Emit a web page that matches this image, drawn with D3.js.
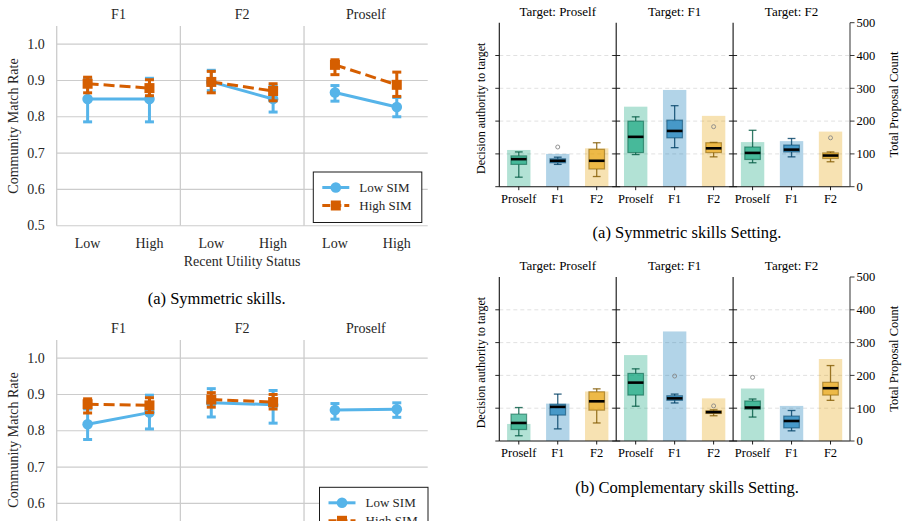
<!DOCTYPE html>
<html><head><meta charset="utf-8">
<script src="https://cdn.jsdelivr.net/npm/d3@7"></script>
<style>body{margin:0;background:#fff}svg text{font-family:"Liberation Serif","Times New Roman","DejaVu Serif",serif}</style>
</head><body><svg id="c" width="906" height="521" font-family="Liberation Serif, Times New Roman, DejaVu Serif, serif"></svg>
<script>
// ---------- Left: point plots ----------
const facets = ["F1", "F2", "Proself"];
const utilityLevels = ["Low", "High"];
const matchTicks = [0.5, 0.6, 0.7, 0.8, 0.9, 1.0];
const simLabels = ["Low SIM", "High SIM"];
// order: F1-Low, F1-High, F2-Low, F2-High, Proself-Low, Proself-High
const symLowMean = [0.849, 0.849, 0.896, 0.849, 0.867, 0.827];
const symLowLo   = [0.786, 0.786, 0.872, 0.813, 0.843, 0.800];
const symLowHi   = [0.906, 0.906, 0.928, 0.885, 0.886, 0.853];
const symHighMean = [0.891, 0.879, 0.896, 0.871, 0.943, 0.888];
const symHighLo   = [0.866, 0.858, 0.866, 0.844, 0.916, 0.856];
const symHighHi   = [0.909, 0.902, 0.925, 0.891, 0.957, 0.923];
const compLowMean = [0.818, 0.850, 0.877, 0.872, 0.857, 0.859];
const compLowLo   = [0.776, 0.805, 0.838, 0.821, 0.832, 0.837];
const compLowHi   = [0.860, 0.898, 0.916, 0.911, 0.875, 0.877];
const compHighMean = [0.873, 0.870, 0.886, 0.879, null, null];
const compHighLo   = [0.849, 0.850, 0.865, 0.860, null, null];
const compHighHi   = [0.888, 0.891, 0.905, 0.900, null, null];

// ---------- Right: bars + boxes ----------
const targets = ["Proself", "F1", "F2"];
const senders = ["Proself", "F1", "F2"];
const countTicks = [0, 100, 200, 300, 400, 500];
// order: target-major (Target Proself: Proself,F1,F2; Target F1: ...; Target F2: ...)
const symTotal = [112, 100, 117, 244, 295, 216, 136, 139, 168];
const symWhLo  = [29, 68, 31, 98, 119, 91, 73, 91, 76];
const symQ1    = [68, 73, 54, 104, 149, 104, 83, 106, 86];
const symMed   = [84, 79, 79, 152, 170, 117, 103, 113, 95];
const symQ3    = [94, 85, 114, 200, 203, 134, 121, 127, 103];
const symWhHi  = [106, 90, 134, 213, 247, 135, 172, 147, 106];
const symOut   = [[], [121], [], [], [], [183], [], [], [149]];
const compTotal = [52, 114, 151, 262, 334, 130, 160, 107, 250];
const compWhLo  = [16, 37, 55, 106, 116, 77, 73, 31, 124];
const compQ1    = [35, 79, 94, 140, 124, 84, 97, 40, 140];
const compMed   = [55, 104, 121, 178, 130, 88, 102, 61, 161];
const compQ3    = [82, 112, 150, 206, 138, 92, 122, 76, 179];
const compWhHi  = [102, 143, 159, 220, 143, 95, 128, 93, 230];
const compOut   = [[], [], [], [], [198], [107], [194], [], []];

const W = 906, H = 521;
const svg = d3.select("#c");
svg.append("rect").attr("width", W).attr("height", H).attr("fill", "#fff");

const blue = "#56B4E9", orange = "#D55E00";
const txtCol = "#262626";

function pointChart(dy, lowM, lowLo, lowHi, highM, highLo, highHi, legendX, legendDy) {
  const g = svg.append("g");
  const y = d3.scaleLinear().domain([0.5, 1.05]).range([225.7 + dy, 26 + dy]);
  const xp = d3.scaleBand().domain(facets).range([56.7, 427.7]);
  const xi = d3.scalePoint().domain(utilityLevels).range([0, xp.bandwidth()]).padding(0.5);
  const bw = xp.bandwidth();
  const visible = yy => yy < H - 4;

  facets.forEach((f, fi) => {
    const pg = g.append("g").attr("transform", `translate(${xp(f)},0)`);
    pg.selectAll("line.grid").data(matchTicks).join("line")
      .attr("x1", 0).attr("x2", bw).attr("y1", d => y(d)).attr("y2", d => y(d))
      .attr("stroke", "#cccccc").attr("stroke-width", 1.1);
    pg.append("line").attr("x1", 0).attr("x2", 0).attr("y1", y(1.05)).attr("y2", y(0.5))
      .attr("stroke", "#cccccc").attr("stroke-width", 1.3);
    pg.append("text").attr("x", bw / 2).attr("y", y(1.05) - 7).attr("text-anchor", "middle")
      .attr("font-size", 14).attr("fill", txtCol).text(f);
    if (visible(248.3 + dy)) {
      pg.selectAll("text.xt").data(utilityLevels).join("text")
        .attr("x", d => xi(d)).attr("y", 248.3 + dy).attr("text-anchor", "middle")
        .attr("font-size", 14).attr("fill", txtCol).text(d => d);
    }
    if (fi === 0) {
      pg.selectAll("text.yt").data(matchTicks.filter(d => visible(y(d) + 5))).join("text")
        .attr("x", -12).attr("y", d => y(d)).attr("dy", "0.33em").attr("text-anchor", "end")
        .attr("font-size", 14).attr("fill", txtCol).text(d => d3.format(".1f")(d));
    }
    const series = [
      {m: lowM, lo: lowLo, hi: lowHi, color: blue, dash: null, marker: "circle"},
      {m: highM, lo: highLo, hi: highHi, color: orange, dash: "11,5", marker: "square"}
    ];
    series.forEach(s => {
      const pts = utilityLevels.map((u, ui) => {
        const i = fi * 2 + ui;
        return {u, m: s.m[i], lo: s.lo[i], hi: s.hi[i]};
      }).filter(p => p.m != null);
      if (!pts.length) return;
      pts.forEach(p => {
        pg.append("line").attr("x1", xi(p.u)).attr("x2", xi(p.u)).attr("y1", y(p.lo)).attr("y2", y(p.hi))
          .attr("stroke", s.color).attr("stroke-width", 3);
        [p.lo, p.hi].forEach(v => pg.append("line").attr("x1", xi(p.u) - 4.5).attr("x2", xi(p.u) + 4.5)
          .attr("y1", y(v)).attr("y2", y(v)).attr("stroke", s.color).attr("stroke-width", 3));
      });
      pg.append("path").attr("d", d3.line().x(p => xi(p.u)).y(p => y(p.m))(pts))
        .attr("fill", "none").attr("stroke", s.color).attr("stroke-width", 3)
        .attr("stroke-dasharray", s.dash);
      pts.forEach(p => {
        if (s.marker === "circle") pg.append("circle").attr("cx", xi(p.u)).attr("cy", y(p.m)).attr("r", 5.3).attr("fill", s.color);
        else pg.append("rect").attr("x", xi(p.u) - 5).attr("y", y(p.m) - 5).attr("width", 10).attr("height", 10).attr("fill", s.color);
      });
    });
  });
  if (visible(265.5 + dy)) {
    g.append("text").attr("x", 242).attr("y", 265.5 + dy).attr("text-anchor", "middle")
      .attr("font-size", 14).attr("fill", txtCol).text("Recent Utility Status");
  }
  g.append("text").attr("transform", `translate(13,${126 + dy}) rotate(-90)`)
    .attr("text-anchor", "middle").attr("dy", "0.35em")
    .attr("font-size", 14).attr("fill", txtCol).text("Community Match Rate");
  const ly = 172 + dy + legendDy;
  const lg = g.append("g");
  lg.append("rect").attr("x", legendX).attr("y", ly).attr("width", 108.5).attr("height", 50.5)
    .attr("fill", "#fff").attr("stroke", "#1a1a1a").attr("stroke-width", 1);
  simLabels.forEach((lab, k) => {
    const yy = ly + 15.5 + k * 18;
    const c = k === 0 ? blue : orange;
    lg.append("line").attr("x1", legendX + 9).attr("x2", legendX + 36).attr("y1", yy).attr("y2", yy)
      .attr("stroke", c).attr("stroke-width", 3).attr("stroke-dasharray", k === 0 ? null : "8,3");
    if (k === 0) lg.append("circle").attr("cx", legendX + 22.5).attr("cy", yy).attr("r", 5.3).attr("fill", c);
    else lg.append("rect").attr("x", legendX + 17.5).attr("y", yy - 5).attr("width", 10).attr("height", 10).attr("fill", c);
    lg.append("text").attr("x", legendX + 46).attr("y", yy).attr("dy", "0.33em")
      .attr("font-size", 13).attr("fill", txtCol).text(lab);
  });
}

pointChart(0, symLowMean, symLowLo, symLowHi, symHighMean, symHighLo, symHighHi, 313.3, 0);
svg.append("text").attr("x", 216.7).attr("y", 304).attr("text-anchor", "middle")
  .attr("font-size", 16.5).attr("fill", "#000").text("(a) Symmetric skills.");
pointChart(314, compLowMean, compLowLo, compLowHi, compHighMean, compHighLo, compHighHi, 319.5, 1.3);

// ---------- Right charts ----------
const senderColors = ["#009E73", "#0072B2", "#E69F00"];
function boxChart(dy, total, whLo, q1, med, q3, whHi, outl, caption, capY) {
  const g = svg.append("g");
  const yR = d3.scaleLinear().domain([0, 500]).range([186.7 + dy, 22.7 + dy]);
  const yL = d3.scaleLinear().domain([0, 500]).range([186.7 + dy, 22.7 + dy]);
  const xp = d3.scaleBand().domain(targets).range([499.3, 850]);
  const bw = xp.bandwidth();
  const xi = d3.scaleBand().domain(senders).range([0, bw]);
  const step = xi.bandwidth();

  targets.forEach((t, ti) => {
    const pg = g.append("g").attr("transform", `translate(${xp(t)},0)`);
    pg.selectAll("line.grid").data([100, 200, 300, 400]).join("line")
      .attr("x1", 0).attr("x2", bw).attr("y1", d => yR(d)).attr("y2", d => yR(d))
      .attr("stroke", "#d9d9d9").attr("stroke-width", 0.8).attr("stroke-dasharray", "4,3");
    senders.forEach((s, si) => {
      const i = ti * 3 + si;
      const cx = xi(s) + step / 2;
      const col = senderColors[si];
      const dark = d3.color(col).darker(1.6).formatHex();
      pg.append("rect").attr("x", cx - 0.3 * step).attr("width", 0.6 * step)
        .attr("y", yR(total[i])).attr("height", yR(0) - yR(total[i]))
        .attr("fill", col).attr("fill-opacity", 0.3);
      const hw = 0.2 * step;
      pg.append("line").attr("x1", cx).attr("x2", cx).attr("y1", yL(whLo[i])).attr("y2", yL(q1[i]))
        .attr("stroke", dark).attr("stroke-opacity", 0.8).attr("stroke-width", 1.3);
      pg.append("line").attr("x1", cx).attr("x2", cx).attr("y1", yL(q3[i])).attr("y2", yL(whHi[i]))
        .attr("stroke", dark).attr("stroke-opacity", 0.8).attr("stroke-width", 1.3);
      [whLo[i], whHi[i]].forEach(v => pg.append("line").attr("x1", cx - hw / 2).attr("x2", cx + hw / 2)
        .attr("y1", yL(v)).attr("y2", yL(v)).attr("stroke", dark).attr("stroke-opacity", 0.8).attr("stroke-width", 1.3));
      pg.append("rect").attr("x", cx - hw).attr("width", 2 * hw)
        .attr("y", yL(q3[i])).attr("height", yL(q1[i]) - yL(q3[i]))
        .attr("fill", col).attr("fill-opacity", 0.6)
        .attr("stroke", dark).attr("stroke-opacity", 0.55).attr("stroke-width", 1.2);
      pg.append("line").attr("x1", cx - hw).attr("x2", cx + hw).attr("y1", yL(med[i])).attr("y2", yL(med[i]))
        .attr("stroke", "#000").attr("stroke-width", 2.6);
      outl[i].forEach(v => pg.append("circle").attr("cx", cx).attr("cy", yL(v)).attr("r", 2)
        .attr("fill", "none").attr("stroke", "#888").attr("stroke-width", 0.9));
      pg.append("line").attr("x1", cx).attr("x2", cx).attr("y1", yR(0)).attr("y2", yR(0) + 3.5)
        .attr("stroke", "#000").attr("stroke-width", 0.9);
      pg.append("text").attr("x", cx).attr("y", 202.7 + dy).attr("text-anchor", "middle")
        .attr("font-size", 12.5).attr("fill", "#000").text(s);
    });
    pg.append("line").attr("x1", 0).attr("x2", 0).attr("y1", yR(500)).attr("y2", yR(0))
      .attr("stroke", "#111").attr("stroke-width", 1.1);
    pg.selectAll("line.lt").data([0, 100, 200, 300, 400]).join("line")
      .attr("x1", -4).attr("x2", ti === 0 ? 0 : 4).attr("y1", d => yL(d)).attr("y2", d => yL(d))
      .attr("stroke", "#111").attr("stroke-width", 0.9);
    pg.append("text").attr("x", bw / 2).attr("y", 15.7 + dy).attr("text-anchor", "middle")
      .attr("font-size", 13).attr("fill", "#000").text("Target: " + t);
  });
  g.append("line").attr("x1", 499.3).attr("x2", 850).attr("y1", yR(0)).attr("y2", yR(0))
    .attr("stroke", "#111").attr("stroke-width", 1.1);
  g.append("line").attr("x1", 850).attr("x2", 850).attr("y1", yR(500)).attr("y2", yR(0))
    .attr("stroke", "#444").attr("stroke-width", 1.1);
  g.selectAll("line.rt").data(countTicks).join("line")
    .attr("x1", 850).attr("x2", 854.5).attr("y1", d => yR(d)).attr("y2", d => yR(d))
    .attr("stroke", "#222").attr("stroke-width", 0.9);
  g.selectAll("text.rt").data(countTicks).join("text")
    .attr("x", 856.5).attr("y", d => yR(d)).attr("dy", "0.35em")
    .attr("font-size", 12.5).attr("fill", "#000").text(d => d);
  g.append("text").attr("transform", `translate(893.3,${104.5 + dy}) rotate(-90)`)
    .attr("text-anchor", "middle").attr("dy", "0.35em").attr("font-size", 12.5).attr("fill", "#000")
    .text("Total Proposal Count");
  g.append("text").attr("transform", `translate(480.7,${108.3 + dy}) rotate(-90)`)
    .attr("text-anchor", "middle").attr("dy", "0.35em").attr("font-size", 12).attr("fill", "#000")
    .text("Decision authority to target");
  g.append("text").attr("x", 687).attr("y", capY).attr("text-anchor", "middle")
    .attr("font-size", 16.5).attr("fill", "#000").text(caption);
}

boxChart(0, symTotal, symWhLo, symQ1, symMed, symQ3, symWhHi, symOut, "(a) Symmetric skills Setting.", 237.5);
boxChart(254.3, compTotal, compWhLo, compQ1, compMed, compQ3, compWhHi, compOut, "(b) Complementary skills Setting.", 492.8);
</script></body></html>
